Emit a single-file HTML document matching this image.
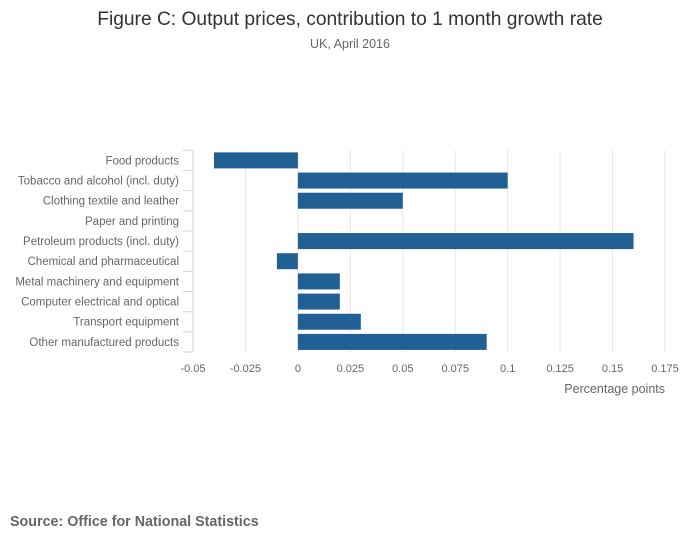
<!DOCTYPE html>
<html><head><meta charset="utf-8"><style>
body{margin:0;background:#fff;font-family:"Liberation Sans",sans-serif}
</style></head><body>
<svg width="700" height="549" xmlns="http://www.w3.org/2000/svg" font-family="Liberation Sans, sans-serif">
<rect width="700" height="549" fill="#fff"/>
<text x="350" y="25" text-anchor="middle" font-size="19.2" fill="#333">Figure C: Output prices, contribution to 1 month growth rate</text>
<text x="350" y="48" text-anchor="middle" font-size="12.5" fill="#666">UK, April 2016</text>
<g id="grid"></g><g id="bars"></g><g id="axes"></g>
<text x="665" y="393" text-anchor="end" font-size="12.5" fill="#666">Percentage points</text>
<text x="10" y="526" font-size="14.3" font-weight="bold" fill="#666">Source: Office for National Statistics</text>
</svg>
<script>
const categories=["Food products","Tobacco and alcohol (incl. duty)","Clothing textile and leather","Paper and printing","Petroleum products (incl. duty)","Chemical and pharmaceutical","Metal machinery and equipment","Computer electrical and optical","Transport equipment","Other manufactured products"];
const values=[-0.04,0.1,0.05,0,0.16,-0.01,0.02,0.02,0.03,0.09];
const ticks=[-0.05,-0.025,0,0.025,0.05,0.075,0.1,0.125,0.15,0.175];
const tickLabels=["-0.05","-0.025","0","0.025","0.05","0.075","0.1","0.125","0.15","0.175"];
const NS="http://www.w3.org/2000/svg";
const x0=193,x1=665,y0=150.3,y1=352,xmin=-0.05,xmax=0.175;
const xs=v=>x0+(v-xmin)/(xmax-xmin)*(x1-x0);
const step=(y1-y0)/categories.length;
const ys=i=>y0+i*step;
function mk(t,a,p){const e=document.createElementNS(NS,t);for(const k in a)e.setAttribute(k,a[k]);p.appendChild(e);return e;}
const grid=document.getElementById('grid'),bars=document.getElementById('bars'),axes=document.getElementById('axes');
ticks.forEach((t,i)=>{
 if(i>0){const g=mk('line',{x1:xs(t),x2:xs(t),y1:y0,y2:y1,stroke:'#e6e6e6'},grid);
 
 }
 const l=mk('text',{x:xs(t),y:372,'text-anchor':'middle','font-size':11,fill:'#666'},axes);l.textContent=tickLabels[i];
 
 
});
const ax=mk('line',{x1:x0,x2:x0,y1:y0,y2:y1,stroke:'#ccd6eb'},axes);


for(let i=0;i<=categories.length;i++){const tk=mk('line',{x1:x0-10,x2:x0,y1:ys(i),y2:ys(i),stroke:'#ccd6eb'},axes);
 
 }
categories.forEach((c,i)=>{
 const cy=ys(i)+step/2;
 const l=mk('text',{x:179,y:cy+4,'text-anchor':'end','font-size':11.5,fill:'#666'},axes);l.textContent=c;
 
 
 const v=values[i];
 if(v!==0){const a=xs(Math.min(0,v)),b=xs(Math.max(0,v));
 const r=mk('rect',{x:a,y:cy-8,width:b-a,height:16,fill:'#206095'},bars);
 
 }
});
</script>
</body></html>
